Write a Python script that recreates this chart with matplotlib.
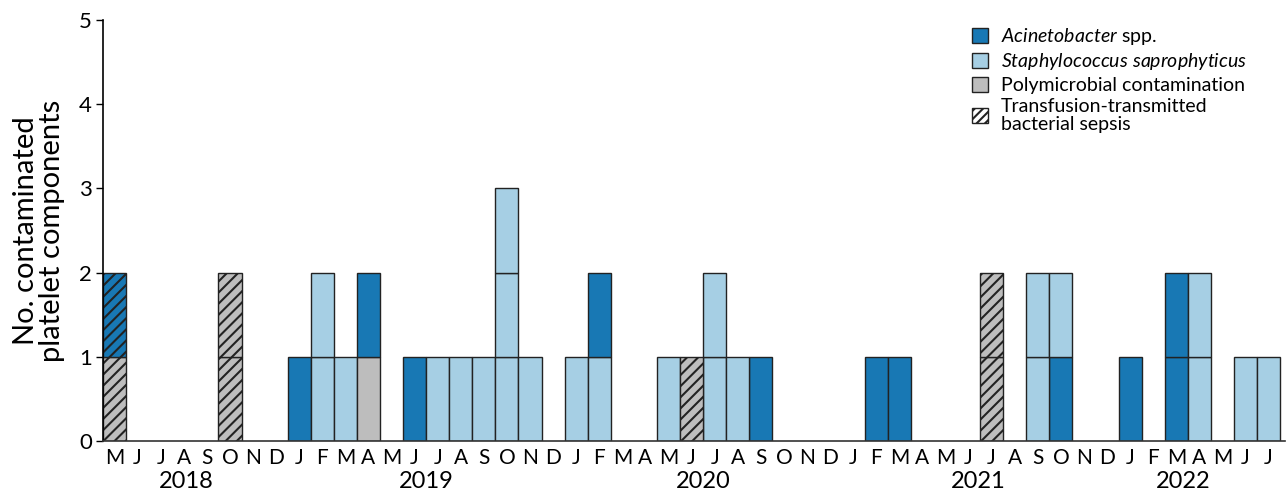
import numpy as np
import matplotlib
matplotlib.use("Agg")
import matplotlib.pyplot as plt
from matplotlib.patches import Patch
from matplotlib.transforms import blended_transform_factory

plt.rcParams['font.family'] = ['Lato', 'DejaVu Sans']
plt.rcParams['mathtext.fontset'] = 'custom'
plt.rcParams['mathtext.rm'] = 'Lato'
plt.rcParams['mathtext.it'] = 'Lato:italic'
plt.rcParams['hatch.linewidth'] = 1.5

# months May 2018 .. Jul 2022
month_letters = list("MJJASOND" + "JFMAMJJASOND" * 3 + "JFMAMJJ")
years = ['2018', '2019', '2020', '2021', '2022']
year_pos = [3.1, 13.5, 25.5, 37.4, 46.3]

# A = Acinetobacter, S = S. saprophyticus, P = polymicrobial, T suffix = TTBS (hatched)
bottom = ['PT', '', '', '', '', 'PT', '', '',
          'A', 'S', 'S', 'P', '', 'A', 'S', 'S', 'S', 'S', 'S', '',
          'S', 'S', '', '', 'S', 'PT', 'S', 'S', 'A', '', '', '',
          '', 'A', 'A', '', '', '', 'PT', '', 'S', 'A', '', '',
          'A', '', 'A', 'S', '', 'S', 'S']
middle = ['AT', '', '', '', '', 'PT', '', '',
          '', 'S', '', 'A', '', '', '', '', '', 'S', '', '',
          '', 'A', '', '', '', '', 'S', '', '', '', '', '',
          '', '', '', '', '', '', 'PT', '', 'S', 'S', '', '',
          '', '', 'A', 'S', '', '', '']
top = ['', '', '', '', '', '', '', '',
       '', '', '', '', '', '', '', '', '', 'S', '', '',
       '', '', '', '', '', '', '', '', '', '', '', '',
       '', '', '', '', '', '', '', '', '', '', '', '',
       '', '', '', '', '', '', '']

colors = {'A': '#1878b4', 'S': '#a6cfe4', 'P': '#bdbdbd'}
edge = '#222222'

fig = plt.figure(figsize=(12.88, 4.9), dpi=100)
ax = fig.add_axes([0.080, 0.100, 0.9175, 0.859])

x = np.arange(len(month_letters))
for level, layer in enumerate([bottom, middle, top]):
    for code in ['A', 'S', 'P', 'AT', 'PT']:
        idx = [i for i, c in enumerate(layer) if c == code]
        if not idx:
            continue
        ax.bar(x[idx], 1, bottom=level, width=1.0, color=colors[code[0]],
               edgecolor=edge, linewidth=1.0,
               hatch='///' if code.endswith('T') else None)

ax.set_xlim(-0.5, 50.7)
ax.set_ylim(0, 5)
ax.set_yticks(range(6))
ax.tick_params(axis='y', labelsize=16, length=5, width=1, pad=3)
ax.set_xticks(x)
ax.set_xticklabels(month_letters)
ax.tick_params(axis='x', labelsize=15, length=0, pad=5)
for s in ['top', 'right']:
    ax.spines[s].set_visible(False)
ax.spines['left'].set_linewidth(1.2)
ax.spines['bottom'].set_linewidth(1.2)
ax.spines['bottom'].set_color('#333333')

trans = blended_transform_factory(ax.transData, ax.transAxes)
for yr, p in zip(years, year_pos):
    ax.text(p, -0.097, yr, transform=trans, ha='center', va='center', fontsize=17)

ax.set_ylabel('No. contaminated\nplatelet components', fontsize=21, labelpad=10,
              linespacing=1.0)

handles = [Patch(facecolor=colors['A'], edgecolor=edge),
           Patch(facecolor=colors['S'], edgecolor=edge),
           Patch(facecolor=colors['P'], edgecolor=edge),
           Patch(facecolor='white', edgecolor=edge, hatch='////')]
labels = [r'$\mathit{Acinetobacter}$ spp.',
          r'$\mathit{Staphylococcus\ saprophyticus}$',
          'Polymicrobial contamination',
          'Transfusion-transmitted\nbacterial sepsis']
leg = fig.legend(handles, labels, loc='upper left',
                 bbox_to_anchor=(972 / 1288, 1 - 26 / 490),
                 frameon=False, fontsize=14, handlelength=0.82, handleheight=0.82,
                 handletextpad=0.65, labelspacing=0.22, borderpad=0, borderaxespad=0)
leg.get_texts()[3].set_linespacing(1.05)

fig.savefig('out.png', dpi=100)
